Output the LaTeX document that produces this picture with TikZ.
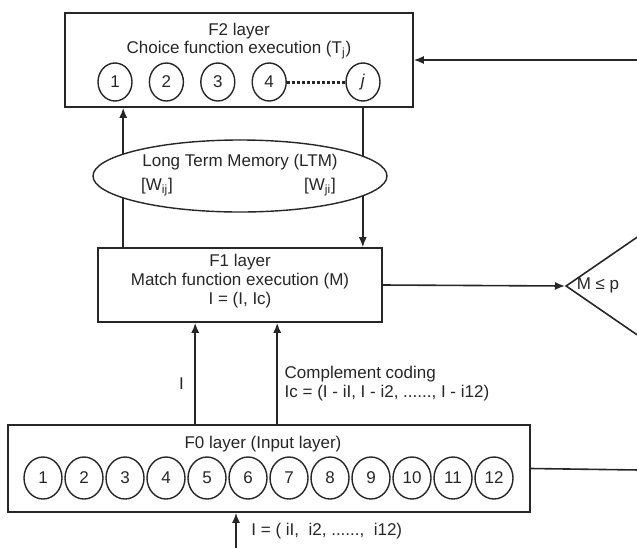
\documentclass[tikz,border=0pt]{standalone}
\usepackage{fontspec}
\setmainfont{Liberation Sans}
\usetikzlibrary{positioning,arrows.meta,shapes.geometric}
\tikzset{
  every node/.style={font=\fontsize{8.5}{9.3}\selectfont},
  layerbox/.style={draw, rectangle, line width=0.8pt, inner sep=0pt},
  unit/.style={ellipse, draw, line width=0.7pt, inner sep=0pt, minimum width=17pt, minimum height=19pt},
  inunit/.style={unit, minimum width=19pt, minimum height=21pt},
  fwd/.style={-{Latex[length=5pt,width=4pt]}, line width=0.8pt},
  link/.style={line width=0.8pt},
}

\begin{document}
\begin{tikzpicture}[x=0.5pt, y=-0.5pt, color=black!85]
\clip (0,0) rectangle (637,547);

%Nodes
\node[layerbox, minimum width=174pt, minimum height=47pt] (f2) at (239,60) {};
\node[align=center] (f2txt) at (239,41) {F2 layer\\Choice function execution (T\textsubscript{j})};
\node[unit] (c1) at (115,82) {1};
\node[unit, right=8pt of c1] (c2) {2};
\node[unit, right=8pt of c2] (c3) {3};
\node[unit, right=8pt of c3] (c4) {4};
\node[unit] (cj) at (363,82) {\textit{j}};

\node[layerbox, minimum width=142pt, minimum height=37pt] (f1) at (240,285) {};
\node[align=center] (f1txt) at (240,281) {F1 layer\\Match function execution (M)\\I = (I, Ic)};

\node[diamond, draw, line width=0.8pt, inner sep=0pt, minimum width=90pt, minimum height=62pt, anchor=west] (match) at (565,286) {};
\node (mtxt) at (598,285) {M ≤ p};

\node[layerbox, minimum width=261pt, minimum height=43.5pt] (f0) at (269,468.5) {};
\node (f0txt) at (263,444) {F0 layer (Input layer)};
\node[inunit] (i1) at (43,478) {1};
\node[inunit, right=0.8pt of i1] (i2) {2};
\node[inunit, right=0.8pt of i2] (i3) {3};
\node[inunit, right=0.8pt of i3] (i4) {4};
\node[inunit, right=0.8pt of i4] (i5) {5};
\node[inunit, right=0.8pt of i5] (i6) {6};
\node[inunit, right=0.8pt of i6] (i7) {7};
\node[inunit, right=0.8pt of i7] (i8) {8};
\node[inunit, right=0.8pt of i8] (i9) {9};
\node[inunit, right=0.8pt of i9] (i10) {10};
\node[inunit, right=0.8pt of i10] (i11) {11};
\node[inunit, right=0.8pt of i11] (i12) {12};

%Ends and taps
\coordinate (fb) at (640,60);
\coordinate (out0) at (640,470);
\coordinate (src) at (236,550);
\coordinate (up1) at ([xshift=13pt]f1.north west);
\coordinate (dn1) at ([xshift=-10pt]f1.north east);
\coordinate (in1) at ([xshift=49pt]f1.south west);
\coordinate (in2) at ([xshift=90pt]f1.south west);

%Lines
\draw[fwd] (fb) -- (f2.east);
\draw[fwd] (up1) -- (up1 |- f2.south);
\draw[fwd] (dn1 |- f2.south) -- (dn1);
\draw[fwd] (f1.east) -- (match.west);
\draw[fwd] (in1 |- f0.north) -- (in1) node[pos=0.4, left, xshift=-2pt] (lblI) {I};
\draw[fwd] (in2 |- f0.north) -- (in2) node[pos=0.4, right, align=left] (lblIc) {Complement coding\\Ic = (I - iI, I - i2, ......, I - i12)};
\draw[fwd] (src) -- (src |- f0.south) node[midway, right, xshift=4pt] (lblin) {I = ( iI,~ i2, ......,~ i12)};
\draw[link] (f0.east) -- (out0);
\draw[line width=1.5pt, dash pattern=on 1.4pt off 1.1pt] (c4) -- (cj);

%Memory
\node[ellipse, draw, fill=white, line width=0.7pt, minimum width=147pt, minimum height=36pt] (ltm) at (240,176) {};
\node (ltmtxt) at (240,162) {Long Term Memory (LTM)};
\node (wij) at (157,187) {[W\textsubscript{ij}]};
\node (wji) at (320,187) {[W\textsubscript{ji}]};
\end{tikzpicture}
\end{document}
